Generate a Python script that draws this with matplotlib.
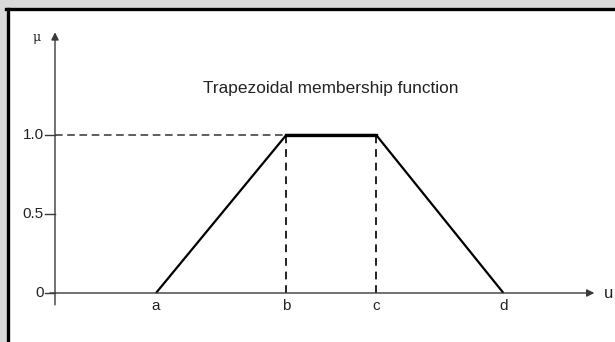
import matplotlib.pyplot as plt
from matplotlib.lines import Line2D
from matplotlib.patches import Rectangle

plt.rcParams['font.family'] = ['Liberation Sans', 'DejaVu Sans']

# trapezoid corner points
point_labels = ['a', 'b', 'c', 'd']
u_points = [1.0, 2.29, 3.18, 4.44]
mu_points = [0.0, 1.0, 1.0, 0.0]

ytick_values = [0.0, 0.5, 1.0]
ytick_labels = ['0', '0.5', '1.0']

title = 'Trapezoidal membership function'

fig = plt.figure(figsize=(6.15, 3.42), dpi=100)
fig.patch.set_facecolor('white')

# grey page margin and black frame (scan look)
fig.add_artist(Rectangle((0, 0), 7 / 615, 1, transform=fig.transFigure,
                         color='#dadada', zorder=0))
fig.add_artist(Rectangle((0, 1 - 8 / 342), 1, 8 / 342, transform=fig.transFigure,
                         color='#dadada', zorder=0))
fig.add_artist(Line2D([7.5 / 615, 7.5 / 615], [0, 1 - 9 / 342], transform=fig.transFigure,
                      color='black', lw=2.4))
fig.add_artist(Line2D([6 / 615, 1], [1 - 9 / 342, 1 - 9 / 342], transform=fig.transFigure,
                      color='black', lw=2.4))

ax = fig.add_axes([0, 0, 1, 1])
ax.set_xlim(-55 / 101, (615 - 55) / 101)
ax.set_ylim(-(342 - 293) / 158, 293 / 158)
ax.axis('off')
ax.patch.set_alpha(0)

axis_col = '#3a3a3a'

# axes with arrows
ax.annotate('', xy=(5.34, 0), xytext=(-0.05, 0),
            arrowprops=dict(arrowstyle='-|>', color=axis_col, lw=1.0,
                            mutation_scale=11, shrinkA=0, shrinkB=0))
ax.annotate('', xy=(0, 1.65), xytext=(0, -0.075),
            arrowprops=dict(arrowstyle='-|>', color=axis_col, lw=1.0,
                            mutation_scale=11, shrinkA=0, shrinkB=0))
ax.text(5.43, 0, 'u', fontsize=12, ha='left', va='center', color='#222222')
ax.text(-0.18, 1.62, 'μ', fontsize=9, family='DejaVu Serif', ha='center',
        va='center', color='#222222')

# y ticks
for v, lab in zip(ytick_values, ytick_labels):
    ax.plot([-0.1, 0], [v, v], color=axis_col, lw=1.0)
    ax.annotate(lab, xy=(-0.1, v), xytext=(-1, 0), textcoords='offset points',
                ha='right', va='center', fontsize=11, color='#222222')

# dashed guides
ax.plot([0, u_points[1]], [1.0, 1.0], color='#333333', lw=1.1, ls=(0, (5, 3)))
for u in u_points[1:3]:
    ax.plot([u, u], [0, 1.0], color='#222222', lw=1.4, ls=(0, (4, 3)))

# membership function
ax.plot(u_points, mu_points, color='black', lw=1.6, solid_capstyle='butt')
ax.plot(u_points[1:3], mu_points[1:3], color='black', lw=2.4)

for u, lab in zip(u_points, point_labels):
    ax.annotate(lab, xy=(u, 0), xytext=(0, -4), textcoords='offset points',
                ha='center', va='top', fontsize=11, color='#222222')

ax.text(2.73, 1.295, title, fontsize=12.4, ha='center', va='center', color='#222222')

fig.savefig('out.png', dpi=100)
